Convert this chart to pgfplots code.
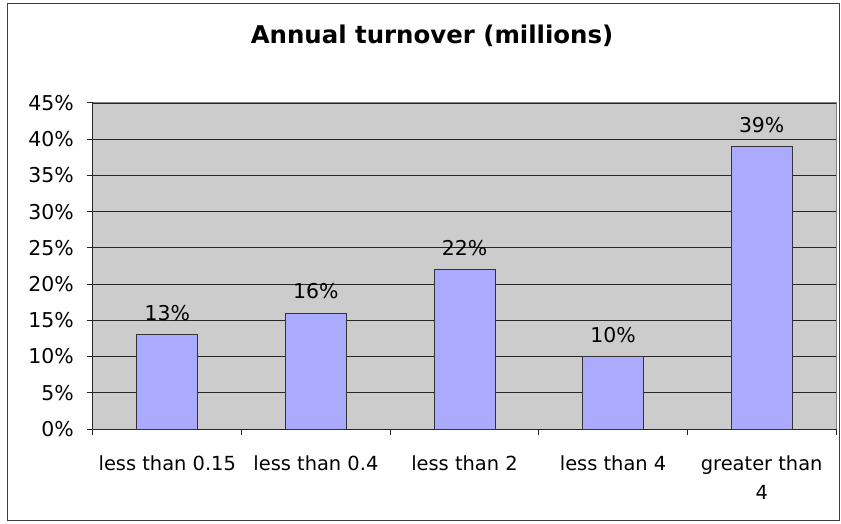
\documentclass[border=0pt]{standalone}
\usepackage{fontspec}
\setmainfont{DejaVu Sans}
\usepackage{pgfplots}
\pgfplotsset{compat=1.18}

\definecolor{plotbg}{HTML}{CCCCCC}
\definecolor{barfill}{HTML}{AAAAFF}
\definecolor{baredge}{HTML}{333333}
\definecolor{framegray}{HTML}{808080}

\begin{document}
\begin{tikzpicture}
  \begin{axis}[
    scale only axis, width=743bp, height=326bp,
    xmin=0.5, xmax=5.5, ymin=0, ymax=45,
    axis background/.style={fill=plotbg},
    axis x line*=bottom, axis y line*=left,
    axis line style={line width=1bp, black!85},
    ymajorgrids, grid style={line width=0.9bp, black!85},
    ytick={0,5,...,45},
    yticklabel={\pgfmathprintnumber{\tick}\%},
    % category boundaries carry the tick marks
    xtick={0.5,1.5,...,5.5},
    xticklabels={},
    % category names sit between them, without marks
    extra x ticks={1,2,3,4,5},
    extra x tick labels={less than 0.15, less than 0.4, less than 2, less than 4, {greater than\\4}},
    extra x tick style={major tick length=0pt},
    tick align=outside,
    major tick length=6bp,
    tick style={line width=1bp, black!85},
    /pgf/number format/assume math mode=true,
    yticklabel style={font=\fontsize{20.5}{24}\selectfont, anchor=east, inner sep=0pt, xshift=-13bp},
    xticklabel style={font=\fontsize{19.5}{29}\selectfont, align=center, anchor=north, inner sep=0pt, yshift=-27bp},
    clip=false,
    after end axis/.code={
      \draw[framegray, line width=1bp] (rel axis cs:0,1) -- (rel axis cs:1,1) -- (rel axis cs:1,0);
      \begin{scope}[shift={(rel axis cs:0,0)}]
        % page area, outer frame and title, measured from the plot corner
        \path (-93bp,-95bp) rectangle (748bp,429bp);
        \draw[line width=1.2bp, black!75] (-85.5bp,-91.5bp) rectangle (746.5bp,425.5bp);
        \node[anchor=base, font=\bfseries\fontsize{24.5}{28}\selectfont]
          at (339bp,385bp) {Annual turnover (millions)};
      \end{scope}
    },
  ]
    \addplot[ybar, bar width=61bp, fill=barfill, draw=baredge, line width=0.8bp,
      nodes near coords={\pgfmathprintnumber[fixed,precision=0]{\pgfplotspointmeta}\%},
      nodes near coords style={font=\fontsize{20.5}{24}\selectfont, inner sep=0pt, text depth=0pt, yshift=14bp}]
      coordinates {(1,13) (2,16) (3,22) (4,10) (5,39)};
  \end{axis}
\end{tikzpicture}
\end{document}
